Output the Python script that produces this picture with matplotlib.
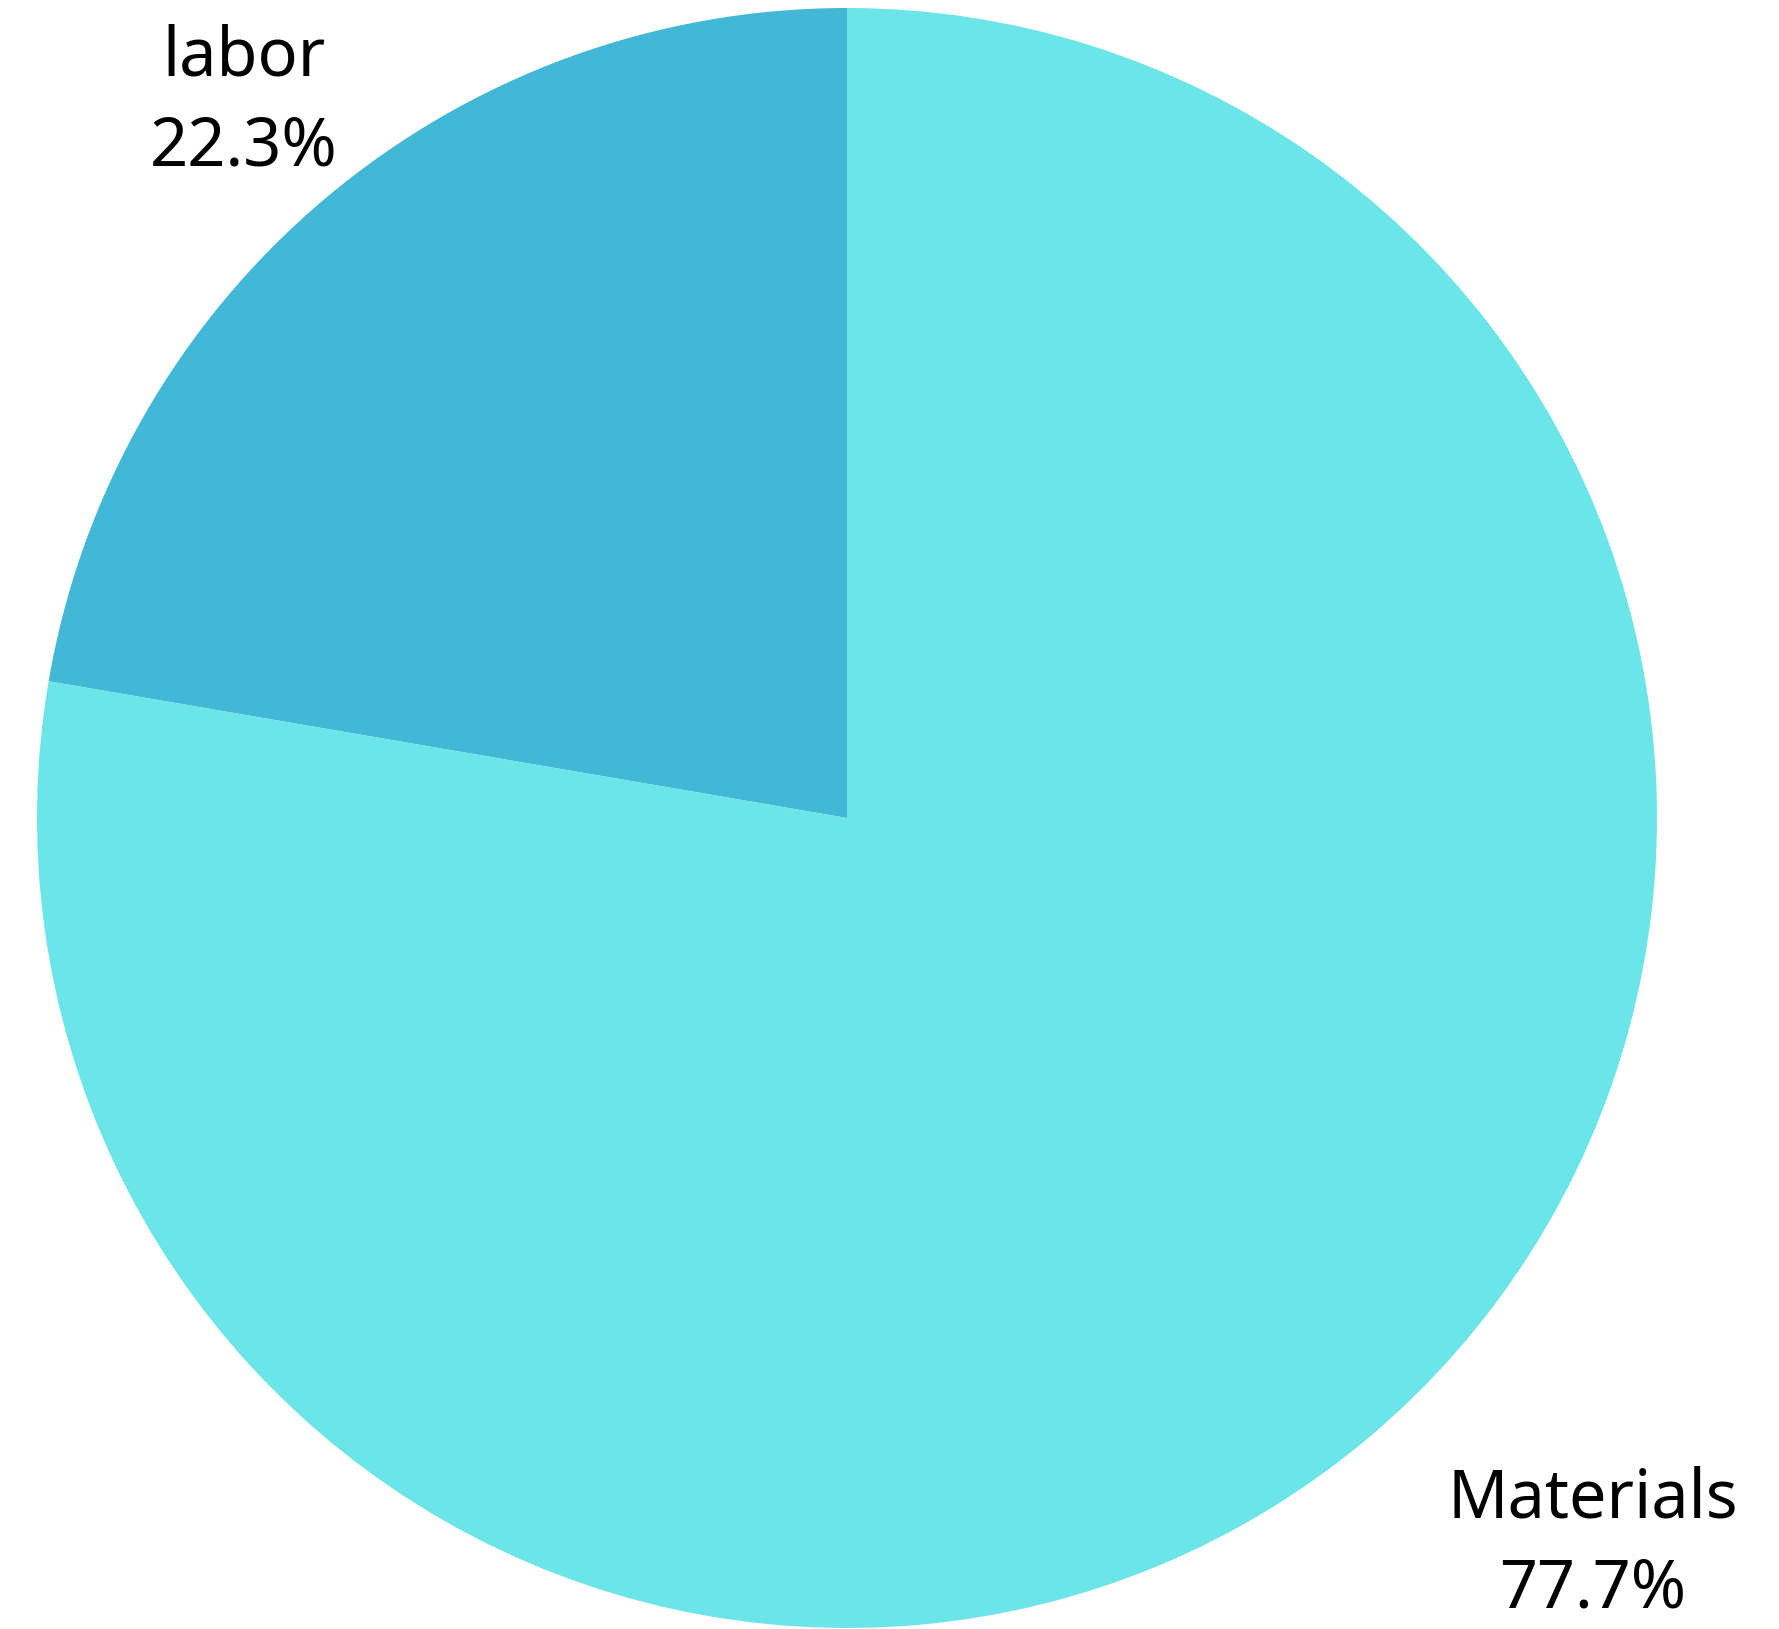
import matplotlib.pyplot as plt
import numpy as np

# data
categories = ["labor", "Materials"]
shares = [22.3, 77.7]
pct_labels = ["22.3%", "77.7%"]

colors = ["#43B8D6", "#6CE5E8"]
label_dist = [1.155, 1.285]    # radial distance of the label centre
label_shift = [0.0, 5.6]       # extra degrees on the label angle

plt.rcParams['font.family'] = ['Noto Sans', 'DejaVu Sans']

fig = plt.figure(figsize=(17.79, 16.29), dpi=100)
W, H = 1779, 1629
cx, cy, R = 847, 818, 810
ax = fig.add_axes([(cx - R) / W, (H - cy - R) / H, 2 * R / W, 2 * R / H])

wedges, _ = ax.pie(
    shares,
    colors=colors,
    startangle=90,
    counterclock=True,
    radius=1.0,
    wedgeprops=dict(linewidth=0),
)
ax.set_xlim(-1, 1)
ax.set_ylim(-1, 1)
ax.set_aspect("auto")
ax.axis("off")

for w, name, pct, d, s in zip(wedges, categories, pct_labels, label_dist, label_shift):
    ang = np.deg2rad((w.theta1 + w.theta2) / 2 + s)
    ax.text(d * np.cos(ang), d * np.sin(ang), f"{name}\n{pct}",
            ha="center", va="center", fontsize=48, linespacing=1.42,
            color="black", clip_on=False)

fig.savefig("out.png", dpi=100)
